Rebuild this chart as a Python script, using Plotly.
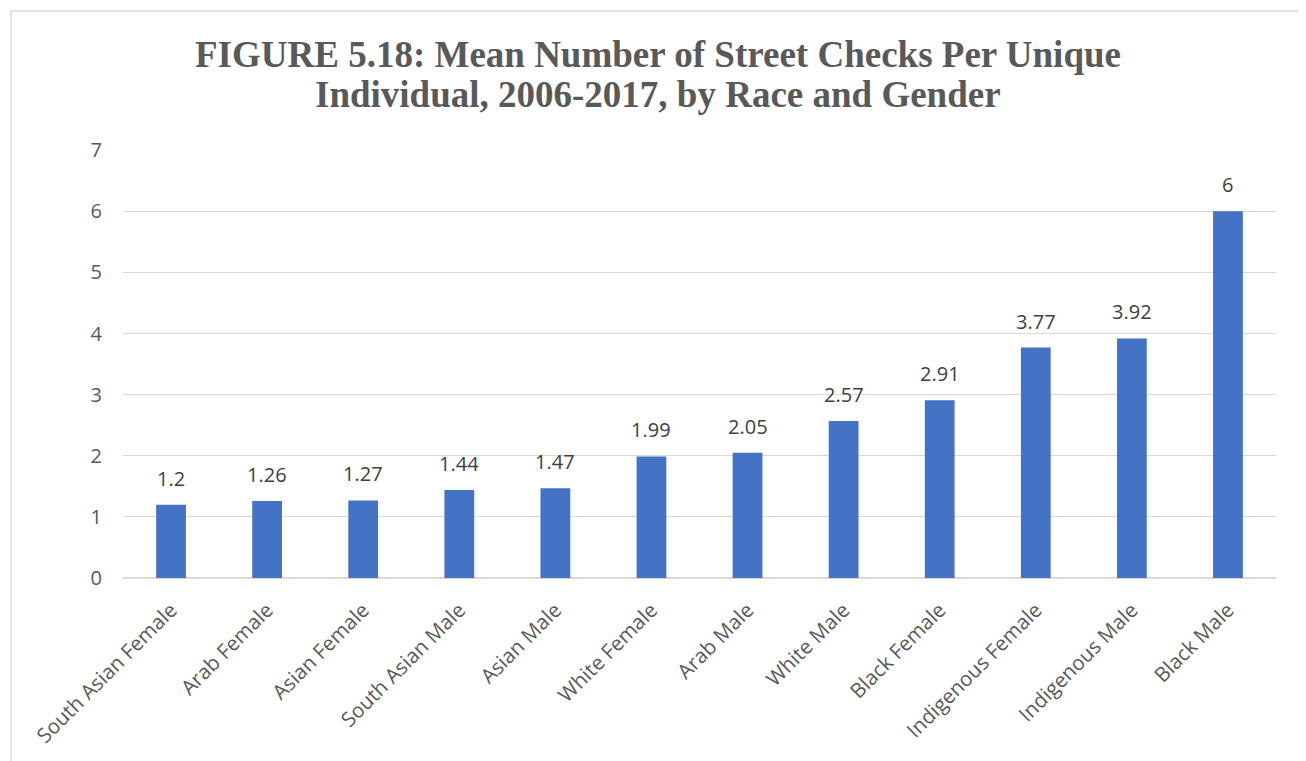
import plotly.graph_objects as go

categories = ["South Asian Female", "Arab Female", "Asian Female", "South Asian Male",
              "Asian Male", "White Female", "Arab Male", "White Male", "Black Female",
              "Indigenous Female", "Indigenous Male", "Black Male"]
values = [1.2, 1.26, 1.27, 1.44, 1.47, 1.99, 2.05, 2.57, 2.91, 3.77, 3.92, 6]
value_labels = ["1.2", "1.26", "1.27", "1.44", "1.47", "1.99", "2.05", "2.57", "2.91",
                "3.77", "3.92", "6"]
y_ticks = [0, 1, 2, 3, 4, 5, 6, 7]
title_lines = ["FIGURE 5.18: Mean Number of Street Checks Per Unique",
               "Individual, 2006-2017, by Race and Gender"]

OFF = 8  # default page body margin
W, H = 1306 - OFF, 761 - OFF
L, T = 123 - OFF, 150 - OFF
R = W - (1276 - OFF)
B = H - (578 - OFF)
pw, ph = W - L - R, H - T - B

def px(x):
    return (x - OFF - L) / pw

def py(y):
    return (H - B - (y - OFF)) / ph

FONT = "Open Sans, Noto Sans, sans-serif"

fig = go.Figure(go.Bar(
    x=categories, y=values,
    marker=dict(color="#4472C4", line=dict(width=0)),
    cliponaxis=False,
))

annotations = []
for c, v, t in zip(categories, values, value_labels):
    annotations.append(dict(x=c, y=v, text=t, xref="x", yref="y", showarrow=False,
                            yanchor="bottom", yshift=11,
                            font=dict(family=FONT, size=20, color="#404040")))
for line, yc in zip(title_lines, [55, 95]):
    annotations.append(dict(x=px((191 + 1124) / 2), y=py(yc), xref="paper", yref="paper",
                            text=line, showarrow=False, xanchor="center", yanchor="middle",
                            font=dict(family="Liberation Serif, Times New Roman, serif", size=37,
                                      color="#595959", weight="bold")))

fig.update_layout(
    width=W, height=H,
    margin=dict(l=L, r=R, t=T, b=B, autoexpand=False),
    paper_bgcolor="white", plot_bgcolor="white",
    bargap=0.69,
    showlegend=False,
    annotations=annotations,
    xaxis=dict(
        tickangle=-45, showgrid=False, showline=False, ticks="",
        tickfont=dict(family=FONT, size=20.5, color="#595959"),
        ticklabelstandoff=15,
        automargin=False,
    ),
    yaxis=dict(
        range=[0, 7.004], tickvals=y_ticks, showgrid=True, gridcolor="#d9d9d9", gridwidth=1.3,
        zeroline=True, zerolinecolor="#d9d9d9", zerolinewidth=1.5,
        showline=False, ticks="", ticklabelstandoff=20,
        tickfont=dict(family=FONT, size=20, color="#595959"),
        automargin=False,
    ),
    shapes=[dict(type="rect", xref="paper", yref="paper",
                 x0=px(11), x1=px(1304), y0=py(800), y1=py(11),
                 line=dict(color="#d9d9d9", width=1.5), fillcolor="rgba(0,0,0,0)", layer="below")],
)

fig.write_html("out.html")
